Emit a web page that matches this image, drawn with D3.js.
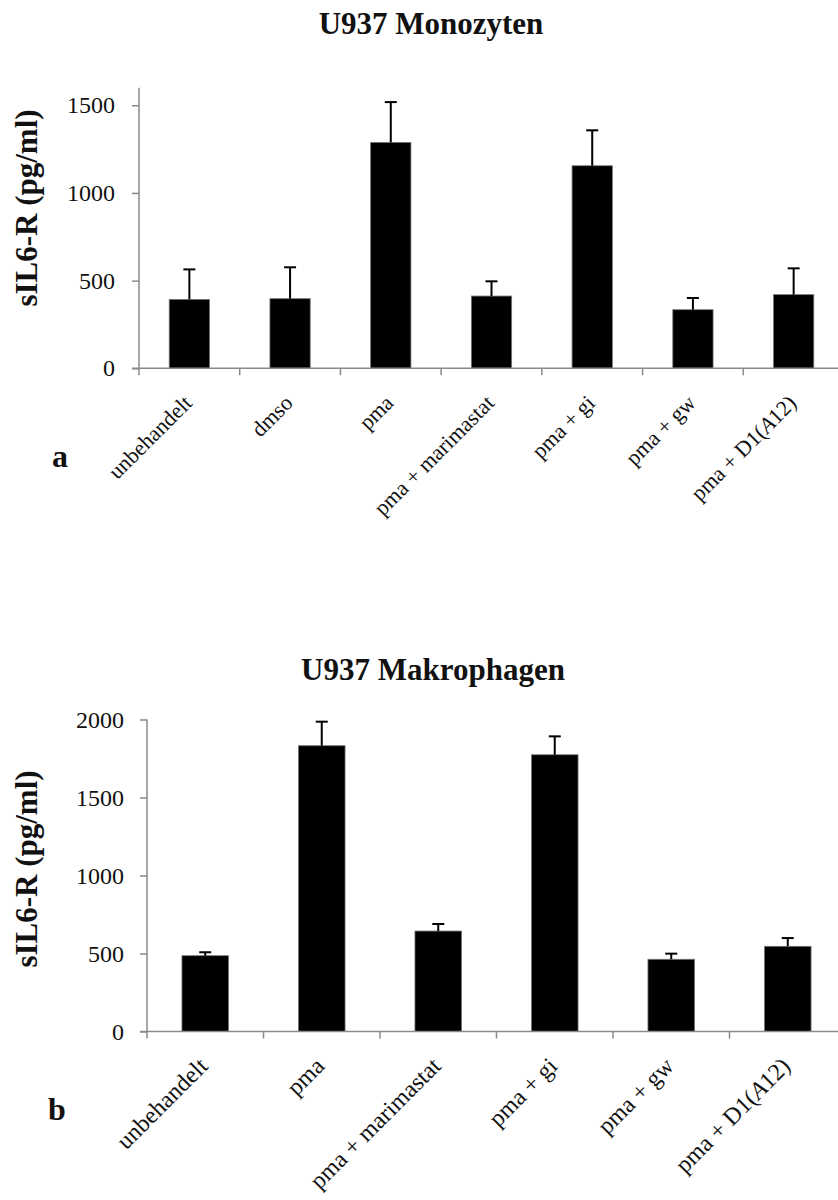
<!DOCTYPE html>
<html>
<head>
<meta charset="utf-8">
<script src="https://cdn.jsdelivr.net/npm/d3@7"></script>
<style>
  html, body { margin: 0; padding: 0; background: #fff; }
  svg { display: block; }
  text { font-family: "Liberation Serif", "Times New Roman", serif; fill: #111; }
</style>
</head>
<body>
<svg id="chart" width="838" height="1200"></svg>
<script>
// ---- Data (a): U937 Monozyten ----
const categoriesA = ["unbehandelt", "dmso", "pma", "pma + marimastat", "pma + gi", "pma + gw", "pma + D1(A12)"];
const valuesA = [393, 397, 1288, 412, 1155, 334, 420];
const errorsA = [171, 179, 230, 84, 202, 67, 150];
const ticksA = [0, 500, 1000, 1500];

// ---- Data (b): U937 Makrophagen ----
const categoriesB = ["unbehandelt", "pma", "pma + marimastat", "pma + gi", "pma + gw", "pma + D1(A12)"];
const valuesB = [486, 1832, 644, 1774, 463, 546];
const errorsB = [22, 154, 45, 118, 36, 53];
const ticksB = [0, 500, 1000, 1500, 2000];

const titles = ["U937 Monozyten", "U937 Makrophagen"];
const yLabel = "sIL6-R (pg/ml)";
const panelLetters = ["a", "b"];

const svg = d3.select("#chart");

function drawPanel(cfg) {
  const g = svg.append("g");
  const x = d3.scaleBand().domain(cfg.categories).range([cfg.x0, cfg.x1]).paddingInner(0).paddingOuter(0);
  const y = d3.scaleLinear().domain([0, cfg.yMax]).range([cfg.y0, cfg.yTop]);
  const bw = x.bandwidth() * 0.4;
  const axisColor = "#8a8a8a";

  // title
  g.append("text")
    .attr("x", cfg.titleX).attr("y", cfg.titleY)
    .attr("text-anchor", "middle")
    .style("font-weight", "bold").style("font-size", "31px")
    .text(cfg.title);

  // y axis label
  g.append("text")
    .attr("transform", `translate(${cfg.yLabelX},${cfg.yLabelY}) rotate(-90)`)
    .attr("text-anchor", "middle")
    .style("font-weight", "bold").style("font-size", "31px")
    .text(yLabel);

  // panel letter
  g.append("text")
    .attr("x", cfg.letterX).attr("y", cfg.letterY)
    .style("font-weight", "bold").style("font-size", "32px")
    .text(cfg.letter);

  // bars
  g.selectAll("rect.bar").data(cfg.values).enter().append("rect")
    .attr("class", "bar")
    .attr("x", (d, i) => x(cfg.categories[i]) + (x.bandwidth() - bw) / 2)
    .attr("width", bw)
    .attr("y", d => y(d))
    .attr("height", d => y(0) - y(d))
    .attr("fill", "#000")
    .attr("stroke", "#777").attr("stroke-width", 0.8);

  // error bars (upper only)
  const eb = g.selectAll("g.err").data(cfg.values).enter().append("g").attr("class", "err");
  eb.append("line")
    .attr("x1", (d, i) => x(cfg.categories[i]) + x.bandwidth() / 2)
    .attr("x2", (d, i) => x(cfg.categories[i]) + x.bandwidth() / 2)
    .attr("y1", d => y(d))
    .attr("y2", (d, i) => y(d + cfg.errors[i]))
    .attr("stroke", "#000").attr("stroke-width", 2);
  eb.append("line")
    .attr("x1", (d, i) => x(cfg.categories[i]) + x.bandwidth() / 2 - 6)
    .attr("x2", (d, i) => x(cfg.categories[i]) + x.bandwidth() / 2 + 6)
    .attr("y1", (d, i) => y(d + cfg.errors[i]))
    .attr("y2", (d, i) => y(d + cfg.errors[i]))
    .attr("stroke", "#000").attr("stroke-width", 2);

  // y axis
  const yAxis = d3.axisLeft(y).tickValues(cfg.ticks).tickSize(7).tickSizeOuter(0).tickPadding(cfg.tickPad).tickFormat(d3.format("d"));
  const ya = g.append("g").attr("transform", `translate(${cfg.x0},0)`).call(yAxis);
  ya.select(".domain").attr("stroke", axisColor).attr("stroke-width", 1.5)
    .attr("d", `M0,${cfg.yTop}V${cfg.y0}`);
  ya.selectAll(".tick line").attr("stroke", axisColor).attr("stroke-width", 1.5);
  ya.selectAll(".tick text")
    .style("font-family", "'Liberation Serif', serif").style("font-size", "24px").attr("fill", "#222");

  // x axis line + boundary ticks
  g.append("line")
    .attr("x1", cfg.x0 - 7).attr("x2", cfg.x1)
    .attr("y1", y(0)).attr("y2", y(0))
    .attr("stroke", axisColor).attr("stroke-width", 1.5);
  const bounds = cfg.categories.map(c => x(c)).concat([cfg.x1]);
  g.selectAll("line.xt").data(bounds).enter().append("line")
    .attr("class", "xt")
    .attr("x1", d => d).attr("x2", d => d)
    .attr("y1", y(0)).attr("y2", y(0) + 7)
    .attr("stroke", axisColor).attr("stroke-width", 1.5);

  // x labels rotated -45
  const lab = g.selectAll("text.xl").data(cfg.categories).enter().append("text")
    .attr("class", "xl")
    .attr("text-anchor", "end")
    .attr("transform", d => `translate(${x(d) + x.bandwidth() / 2 + cfg.labDx},${y(0) + cfg.labDy}) rotate(-45)`)
    .style("font-size", cfg.labSize + "px").attr("fill", "#222");
  lab.each(function (d) {
    const t = d3.select(this);
    const m = d.match(/^(.*\()([A-Z])(.*)$/);
    if (m) {
      t.append("tspan").text(m[1]);
      t.append("tspan").style("font-style", "italic").text(m[2]);
      t.append("tspan").text(m[3]);
    } else {
      t.text(d);
    }
  });
}

drawPanel({
  categories: categoriesA, values: valuesA, errors: errorsA, ticks: ticksA,
  yMax: 1600, x0: 139, x1: 844, y0: 368.3, yTop: 87.7, tickPad: 17,
  title: titles[0], titleX: 431, titleY: 34,
  yLabelX: 37, yLabelY: 208, letter: panelLetters[0], letterX: 52, letterY: 467,
  labSize: 22, labDx: 4, labDy: 36
});

drawPanel({
  categories: categoriesB, values: valuesB, errors: errorsB, ticks: ticksB,
  yMax: 2000, x0: 147, x1: 846, y0: 1031.5, yTop: 719.5, tickPad: 16,
  title: titles[1], titleX: 433, titleY: 680,
  yLabelX: 37, yLabelY: 869, letter: panelLetters[1], letterX: 48, letterY: 1120,
  labSize: 24, labDx: 4, labDy: 36
});
</script>
</body>
</html>
